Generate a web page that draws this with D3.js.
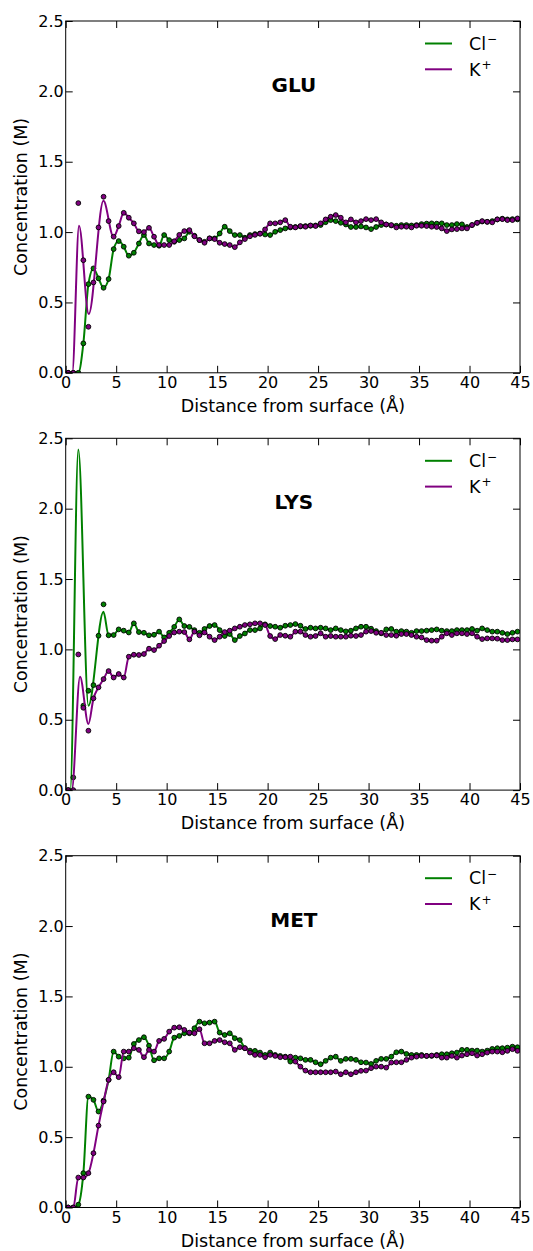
<!DOCTYPE html>
<html><head><meta charset="utf-8">
<script src="https://cdn.jsdelivr.net/npm/d3@7"></script>
<style>
body{margin:0;background:#fff}
svg{display:block}
text{font-family:"DejaVu Sans",sans-serif;fill:#000}
</style>
</head><body>
<svg id="chart" width="533" height="1251"></svg>
<script>
// ---- data ----
const distance = [0.25,0.75,1.25,1.75,2.25,2.75,3.25,3.75,4.25,4.75,5.25,5.75,6.25,6.75,7.25,7.75,8.25,8.75,9.25,9.75,
10.25,10.75,11.25,11.75,12.25,12.75,13.25,13.75,14.25,14.75,15.25,15.75,16.25,16.75,17.25,17.75,18.25,18.75,19.25,19.75,
20.25,20.75,21.25,21.75,22.25,22.75,23.25,23.75,24.25,24.75,25.25,25.75,26.25,26.75,27.25,27.75,28.25,28.75,29.25,29.75,
30.25,30.75,31.25,31.75,32.25,32.75,33.25,33.75,34.25,34.75,35.25,35.75,36.25,36.75,37.25,37.75,38.25,38.75,39.25,39.75,
40.25,40.75,41.25,41.75,42.25,42.75,43.25,43.75,44.25,44.75];

const gluCl = [0,0,0,0.209,0.63,0.742,0.671,0.604,0.666,0.879,
0.936,0.896,0.832,0.853,0.919,0.979,0.919,0.908,0.903,0.979,
0.943,0.931,0.943,0.955,1.002,0.974,0.943,0.931,0.955,0.955,
0.99,1.038,1.007,0.979,0.979,0.96,0.979,0.986,0.99,0.983,
0.979,1.002,1.014,1.026,1.033,1.036,1.04,1.043,1.045,1.047,
1.05,1.07,1.085,1.078,1.066,1.054,1.036,1.036,1.04,1.033,
1.021,1.036,1.05,1.054,1.047,1.045,1.05,1.05,1.047,1.05,
1.057,1.06,1.062,1.06,1.062,1.05,1.05,1.057,1.055,1.036,
1.05,1.066,1.075,1.073,1.078,1.09,1.095,1.09,1.092,1.09];

const gluK = [0,0,1.206,0.80,0.327,0.642,1.033,1.251,1.078,0.967,
1.043,1.137,1.102,1.062,1.005,1.0,1.03,0.967,0.908,0.908,
0.908,0.935,0.98,1.007,1.014,0.97,0.943,0.924,0.955,0.95,
0.924,0.915,0.908,0.893,0.927,0.95,0.97,0.98,0.988,1.019,
1.062,1.062,1.069,1.085,1.038,1.033,1.043,1.038,1.047,1.043,
1.062,1.09,1.109,1.121,1.102,1.069,1.09,1.069,1.078,1.092,
1.085,1.092,1.069,1.054,1.05,1.033,1.038,1.038,1.033,1.045,
1.045,1.043,1.038,1.036,1.026,1.007,1.019,1.021,1.026,1.026,
1.05,1.066,1.078,1.073,1.069,1.09,1.092,1.085,1.085,1.097];

const lysCl = [0,0.09,2.9,0.60,0.706,0.746,1.097,1.32,1.10,1.102,
1.142,1.133,1.12,1.185,1.123,1.118,1.10,1.104,1.126,1.085,
1.118,1.16,1.213,1.166,1.16,1.137,1.118,1.145,1.166,1.173,
1.137,1.095,1.109,1.066,1.095,1.113,1.137,1.137,1.149,1.178,
1.166,1.161,1.154,1.168,1.173,1.18,1.168,1.145,1.154,1.149,
1.154,1.149,1.137,1.149,1.137,1.128,1.133,1.149,1.161,1.161,
1.147,1.13,1.114,1.142,1.145,1.126,1.13,1.126,1.118,1.13,
1.13,1.133,1.137,1.142,1.133,1.13,1.13,1.137,1.137,1.137,
1.145,1.133,1.149,1.137,1.126,1.126,1.118,1.109,1.118,1.126];

const lysK = [0,0,0.964,0.585,0.422,0.652,0.73,0.789,0.846,0.80,
0.825,0.80,0.948,0.962,0.96,0.967,1.005,0.995,1.026,1.059,
1.095,1.12,1.126,1.123,1.071,1.126,1.10,1.12,1.09,1.066,
1.09,1.123,1.133,1.149,1.161,1.173,1.178,1.185,1.185,1.173,
1.095,1.073,1.102,1.097,1.09,1.126,1.126,1.102,1.09,1.095,
1.114,1.09,1.095,1.09,1.09,1.09,1.097,1.095,1.102,1.126,
1.13,1.118,1.118,1.102,1.102,1.097,1.109,1.109,1.102,1.09,
1.085,1.066,1.062,1.062,1.09,1.114,1.102,1.114,1.114,1.109,
1.114,1.09,1.073,1.078,1.078,1.076,1.066,1.066,1.071,1.071];

const metCl = [0,0,0.02,0.244,0.788,0.765,0.682,0.76,0.907,1.108,
1.072,1.06,1.065,1.162,1.19,1.21,1.15,1.046,1.06,1.06,
1.108,1.207,1.219,1.238,1.238,1.274,1.321,1.309,1.314,1.321,
1.243,1.226,1.238,1.203,1.19,1.132,1.115,1.113,1.101,1.084,
1.101,1.084,1.077,1.072,1.037,1.065,1.06,1.049,1.049,1.032,
1.018,1.042,1.065,1.072,1.042,1.056,1.056,1.049,1.032,1.03,
1.02,1.042,1.056,1.056,1.072,1.103,1.108,1.091,1.084,1.084,
1.084,1.077,1.077,1.084,1.089,1.089,1.096,1.101,1.12,1.12,
1.115,1.115,1.108,1.115,1.127,1.132,1.132,1.136,1.143,1.139];

const metK = [0,0,0.213,0.213,0.244,0.386,0.582,0.753,0.907,0.961,
0.926,1.108,1.108,1.132,1.12,1.068,1.12,1.108,1.184,1.198,
1.25,1.278,1.281,1.262,1.243,1.238,1.267,1.167,1.167,1.184,
1.19,1.174,1.167,1.12,1.139,1.132,1.101,1.084,1.084,1.068,
1.084,1.077,1.068,1.068,1.072,1.037,1.001,0.973,0.961,0.961,
0.961,0.961,0.961,0.966,0.947,0.961,0.947,0.961,0.971,0.973,
0.99,1.001,1.001,0.994,1.03,1.032,1.032,1.049,1.065,1.072,
1.077,1.077,1.08,1.08,1.065,1.065,1.077,1.065,1.08,1.089,
1.096,1.08,1.089,1.101,1.108,1.108,1.103,1.113,1.125,1.113];

// smoothed-fit curve near the surface, [distance, conc]
const gluKFitHead = [[0,0],[0.65,0],[1.32,1.045],[2.28,0.417],[3.74,1.222],[4.73,0.967]];
const lysClFitHead = [[0,0],[0.45,0],[1.25,2.42],[2.25,0.60],[3.74,1.267],[4.25,1.10]];
const lysKFitHead = [[0,0],[0.6,0],[1.42,0.805],[2.25,0.469],[2.75,0.65]];

const panelNames = ["GLU","LYS","MET"];
const xTicks = [0,5,10,15,20,25,30,35,40,45];
const yTicks = [0,0.5,1.0,1.5,2.0,2.5];
const yTickLabels = ["0.0","0.5","1.0","1.5","2.0","2.5"];
const seriesLabels = [["Cl","\u2212"],["K","+"]];
const seriesColors = ["#008000","#800080"];

const panels = [
  {name: panelNames[0], series: [{v: gluCl, head: null}, {v: gluK, head: gluKFitHead}]},
  {name: panelNames[1], series: [{v: lysCl, head: lysClFitHead}, {v: lysK, head: lysKFitHead}]},
  {name: panelNames[2], series: [{v: metCl, head: null}, {v: metK, head: null}]}
];

// ---- layout ----
const left = 65.7, right = 520, plotH = 351.8;
const tops = [21, 438.3, 855.7];
const svg = d3.select("#chart");
const x = d3.scaleLinear().domain([0,45]).range([left,right]);
const tickLen = 7;
const labelFont = 17.5;

panels.forEach((p, pi) => {
  const top = tops[pi], bottom = top + plotH;
  const y = d3.scaleLinear().domain([0,2.5]).range([bottom, top]);
  const g = svg.append("g");

  const clipId = "clip" + pi;
  svg.append("clipPath").attr("id", clipId).append("rect")
    .attr("x", left).attr("y", top).attr("width", right-left).attr("height", plotH);

  const plot = g.append("g").attr("clip-path", `url(#${clipId})`);
  const line = d3.line().x(d => x(d[0])).y(d => y(d[1])).curve(d3.curveMonotoneX);

  p.series.forEach((s, si) => {
    const pts = distance.map((d, i) => [d, s.v[i]]);
    let lineData = pts;
    if (s.head) {
      const last = s.head[s.head.length-1][0];
      lineData = s.head.concat(pts.filter(d => d[0] > last + 0.01));
    }
    plot.append("path").datum(lineData).attr("d", line)
      .attr("fill","none").attr("stroke", seriesColors[si]).attr("stroke-width", 2)
      .attr("stroke-linejoin","round");
    plot.append("g").selectAll("circle").data(pts).join("circle")
      .attr("cx", d => x(d[0])).attr("cy", d => y(d[1])).attr("r", 2.4)
      .attr("fill", seriesColors[si]).attr("stroke", "#000").attr("stroke-width", 0.9);
  });

  // axes (ticks inward)
  const ax = g.append("g").attr("transform", `translate(0,${bottom})`)
    .call(d3.axisBottom(x).tickValues(xTicks).tickFormat(d3.format("d")).tickSizeInner(-tickLen).tickSizeOuter(0).tickPadding(4));
  const axT = g.append("g").attr("transform", `translate(0,${top})`)
    .call(d3.axisTop(x).tickValues(xTicks).tickFormat("").tickSizeInner(-tickLen).tickSizeOuter(0));
  const ay = g.append("g").attr("transform", `translate(${left},0)`)
    .call(d3.axisLeft(y).tickValues(yTicks).tickFormat((d,i) => yTickLabels[i]).tickSizeInner(-tickLen).tickSizeOuter(0).tickPadding(2));
  const ayR = g.append("g").attr("transform", `translate(${right},0)`)
    .call(d3.axisRight(y).tickValues(yTicks).tickFormat("").tickSizeInner(-tickLen).tickSizeOuter(0));
  [ax, axT, ay, ayR].forEach(a => {
    a.select(".domain").remove();
    a.selectAll(".tick line").attr("stroke","#000").attr("stroke-width",1);
    a.selectAll("text").attr("font-size", 16).attr("font-family", '"DejaVu Sans", sans-serif').attr("fill","#000");
  });

  g.append("rect").attr("x", left).attr("y", top).attr("width", right-left).attr("height", plotH)
    .attr("fill","none").attr("stroke","#000").attr("stroke-width",1);

  // labels
  g.append("text").attr("x", (left+right)/2).attr("y", bottom + 39)
    .attr("text-anchor","middle").attr("font-size",labelFont).text("Distance from surface (\u00C5)");
  g.append("text").attr("transform", `translate(26.5,${(top+bottom)/2}) rotate(-90)`)
    .attr("text-anchor","middle").attr("font-size",labelFont).text("Concentration (M)");
  g.append("text").attr("x", (left+right)/2 + 1).attr("y", top + 71)
    .attr("text-anchor","middle").attr("font-size",20).attr("font-weight","bold").text(p.name);

  // legend
  seriesLabels.forEach((lab, si) => {
    const ly = top + 22.5 + si*25.8;
    g.append("line").attr("x1",425).attr("x2",452).attr("y1",ly).attr("y2",ly)
      .attr("stroke", seriesColors[si]).attr("stroke-width",2);
    const t = g.append("text").attr("x",469).attr("y", ly + 6.2).attr("font-size",labelFont);
    t.append("tspan").text(lab[0]);
    t.append("tspan").attr("dy",-6.5).attr("font-size",12).attr("dx",1).text(lab[1]);
  });
});
</script>
</body></html>
